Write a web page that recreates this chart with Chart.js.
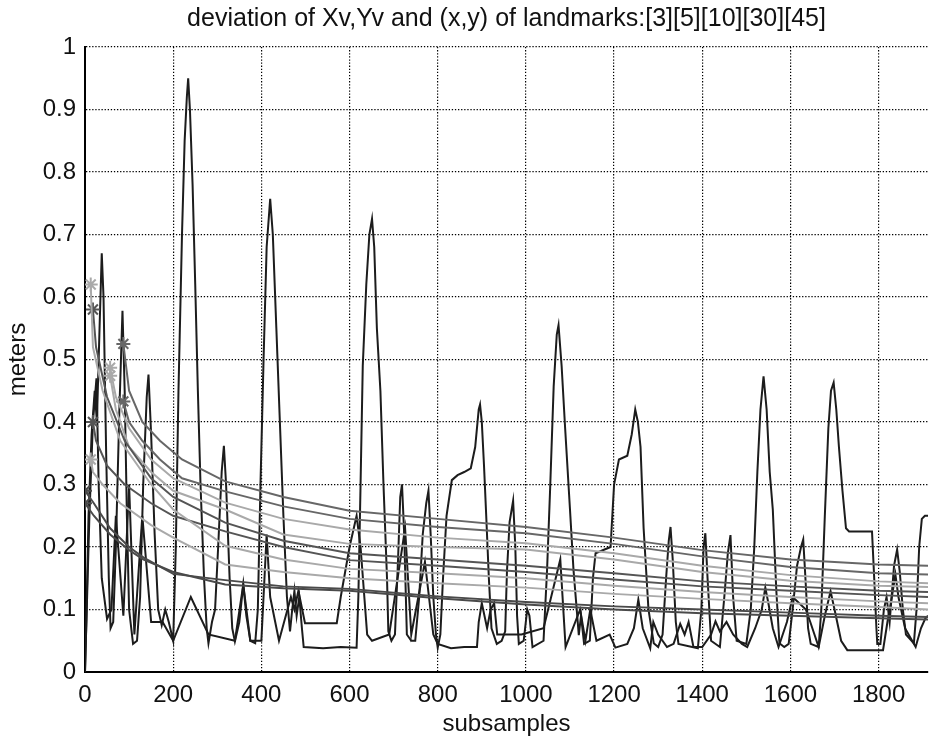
<!DOCTYPE html>
<html>
<head>
<meta charset="utf-8">
<script src="https://cdn.jsdelivr.net/npm/chart.js@4/dist/chart.umd.min.js"></script>
<style>
  html, body { margin: 0; padding: 0; background: #fff; }
  #wrap { width: 929px; height: 742px; }
</style>
</head>
<body>
<div id="wrap"><canvas id="c" width="929" height="742"></canvas></div>
<script>
/* deviation of vehicle (Xv, Yv) and landmark (x, y) estimates */

const xTicks = [0, 200, 400, 600, 800, 1000, 1200, 1400, 1600, 1800];
const yTicks = [0, 0.1, 0.2, 0.3, 0.4, 0.5, 0.6, 0.7, 0.8, 0.9, 1];
const TITLE = 'deviation of Xv,Yv and (x,y) of landmarks:[3][5][10][30][45]';

// vehicle deviation, first trace (the tall peaks)
const xvSamples = [0,3,8,15,22,27,33,38,42,48,54,58,64,70,78,85,90,95,100,109,118,125,132,140,144,150,158,166,174,182,190,200,206,212,220,226,231,234,238,244,250,256,262,270,276,280,288,295,302,310,315,320,328,334,340,350,359,366,375,386,392,398,405,412,420,426,434,442,450,458,465,470,475,480,486,492,496,540,580,616,620,625,630,638,645,651,656,662,670,677,685,688,695,703,710,715,719,724,730,740,749,758,766,774,779,784,790,796,800,806,812,820,832,845,860,875,885,893,896,900,905,910,916,922,934,945,953,957,963,971,976,980,984,995,1003,1008,1015,1040,1048,1055,1063,1070,1074,1081,1089,1100,1108,1120,1125,1132,1145,1152,1158,1192,1200,1211,1230,1240,1248,1254,1260,1267,1278,1290,1300,1310,1318,1324,1328,1333,1340,1346,1390,1398,1403,1407,1412,1420,1440,1450,1458,1464,1470,1478,1500,1510,1518,1525,1532,1539,1546,1553,1560,1568,1575,1586,1596,1605,1615,1624,1629,1634,1640,1646,1664,1670,1678,1686,1692,1698,1704,1710,1718,1726,1733,1785,1790,1795,1797,1804,1812,1818,1825,1835,1842,1848,1855,1862,1880,1886,1892,1898,1905,1912];
const xvDev = [0,0.08,0.25,0.38,0.45,0.40,0.55,0.67,0.6,0.35,0.15,0.07,0.08,0.2,0.42,0.578,0.45,0.25,0.1,0.045,0.05,0.12,0.3,0.44,0.476,0.38,0.22,0.1,0.075,0.1,0.08,0.05,0.2,0.45,0.7,0.85,0.92,0.95,0.9,0.78,0.62,0.45,0.3,0.15,0.07,0.046,0.08,0.1,0.2,0.32,0.362,0.3,0.15,0.07,0.049,0.08,0.14,0.09,0.05,0.046,0.1,0.3,0.5,0.68,0.757,0.7,0.55,0.4,0.25,0.12,0.065,0.1,0.13,0.09,0.12,0.07,0.04,0.038,0.04,0.039,0.12,0.3,0.49,0.62,0.7,0.725,0.68,0.55,0.45,0.3,0.15,0.065,0.05,0.06,0.18,0.28,0.30,0.22,0.06,0.05,0.05,0.12,0.22,0.27,0.29,0.22,0.12,0.06,0.039,0.06,0.15,0.25,0.307,0.315,0.32,0.326,0.36,0.42,0.428,0.4,0.33,0.25,0.15,0.07,0.045,0.05,0.065,0.16,0.24,0.274,0.2,0.09,0.045,0.05,0.1,0.09,0.04,0.05,0.163,0.294,0.457,0.54,0.555,0.49,0.39,0.26,0.163,0.059,0.09,0.045,0.05,0.15,0.19,0.2,0.3,0.34,0.346,0.38,0.42,0.4,0.36,0.23,0.1,0.046,0.04,0.06,0.15,0.21,0.232,0.18,0.08,0.045,0.038,0.1,0.2,0.222,0.15,0.05,0.04,0.12,0.19,0.219,0.12,0.05,0.045,0.1,0.2,0.32,0.42,0.473,0.42,0.32,0.26,0.13,0.046,0.04,0.045,0.1,0.17,0.2,0.212,0.15,0.07,0.045,0.04,0.1,0.25,0.39,0.45,0.463,0.42,0.36,0.29,0.23,0.225,0.225,0.15,0.07,0.045,0.045,0.1,0.12,0.08,0.17,0.196,0.16,0.1,0.06,0.046,0.1,0.2,0.245,0.25,0.25];

// vehicle deviation, second trace
const yvSamples = [0,4,10,18,26,31,38,50,60,70,87,100,112,130,150,176,200,240,280,340,359,375,400,412,420,440,467,475,484,499,571,580,600,616,625,640,651,690,726,740,771,790,800,830,860,889,893,900,912,920,928,935,990,1040,1078,1090,1123,1135,1146,1160,1190,1203,1230,1245,1255,1265,1282,1289,1300,1320,1335,1350,1360,1369,1380,1400,1420,1430,1440,1455,1470,1490,1502,1520,1535,1543,1550,1560,1573,1592,1605,1635,1645,1664,1678,1691,1700,1715,1729,1810,1820,1830,1838,1845,1860,1884,1896,1906,1912];
const yvDev = [0,0.1,0.25,0.4,0.47,0.3,0.15,0.085,0.1,0.25,0.09,0.3,0.06,0.25,0.08,0.08,0.05,0.12,0.06,0.05,0.14,0.05,0.05,0.22,0.12,0.05,0.12,0.1,0.13,0.078,0.078,0.12,0.2,0.25,0.2,0.06,0.05,0.06,0.23,0.06,0.176,0.06,0.045,0.038,0.04,0.04,0.08,0.11,0.07,0.1,0.11,0.06,0.06,0.07,0.18,0.04,0.1,0.05,0.1,0.05,0.06,0.039,0.045,0.07,0.116,0.07,0.038,0.08,0.06,0.04,0.045,0.077,0.06,0.08,0.04,0.04,0.06,0.081,0.065,0.08,0.06,0.045,0.04,0.07,0.1,0.135,0.11,0.07,0.04,0.08,0.12,0.1,0.08,0.04,0.09,0.129,0.1,0.05,0.035,0.035,0.08,0.12,0.156,0.12,0.07,0.04,0.07,0.086,0.09];

// landmark deviations: shared samples per landmark, then x and y deviation
const lm3Samples = [0, 20, 57, 100, 133, 200, 318, 450, 600, 800, 1000, 1200, 1400, 1600, 1800, 1912];
const lm3x = [0.29, 0.27, 0.23, 0.2, 0.183, 0.157, 0.147, 0.137, 0.133, 0.121, 0.112, 0.105, 0.1, 0.095, 0.09, 0.088];
const lm3y = [0.27, 0.25, 0.22, 0.195, 0.18, 0.16, 0.14, 0.134, 0.13, 0.118, 0.108, 0.1, 0.094, 0.09, 0.086, 0.084];

const lm5Samples = [13, 18, 40, 80, 150, 200, 318, 450, 600, 800, 1000, 1200, 1400, 1600, 1800, 1912];
const lm5x = [0.62, 0.52, 0.45, 0.37, 0.3, 0.26, 0.202, 0.18, 0.165, 0.158, 0.15, 0.138, 0.128, 0.12, 0.113, 0.11];
const lm5y = [0.34, 0.32, 0.3, 0.27, 0.235, 0.215, 0.172, 0.16, 0.15, 0.142, 0.135, 0.125, 0.117, 0.11, 0.104, 0.1];

const lm10Samples = [18, 25, 50, 90, 150, 200, 318, 450, 600, 800, 1000, 1200, 1400, 1600, 1800, 1912];
const lm10x = [0.58, 0.52, 0.44, 0.37, 0.31, 0.28, 0.239, 0.21, 0.19, 0.18, 0.17, 0.158, 0.145, 0.137, 0.13, 0.128];
const lm10y = [0.40, 0.37, 0.33, 0.3, 0.27, 0.25, 0.225, 0.2, 0.179, 0.17, 0.16, 0.148, 0.137, 0.13, 0.123, 0.12];

const lm30Samples = [57, 70, 100, 150, 200, 318, 450, 600, 800, 1000, 1200, 1400, 1600, 1800, 1912];
const lm30x = [0.487, 0.44, 0.39, 0.34, 0.31, 0.271, 0.245, 0.228, 0.215, 0.206, 0.19, 0.17, 0.155, 0.145, 0.142];
const lm30y = [0.474, 0.42, 0.36, 0.32, 0.29, 0.26, 0.22, 0.205, 0.2, 0.196, 0.18, 0.16, 0.146, 0.138, 0.136];

const lm45Samples = [87, 100, 130, 170, 220, 318, 450, 600, 800, 1000, 1200, 1400, 1600, 1800, 1912];
const lm45x = [0.525, 0.45, 0.4, 0.37, 0.34, 0.305, 0.28, 0.258, 0.245, 0.232, 0.215, 0.195, 0.18, 0.172, 0.17];
const lm45y = [0.433, 0.4, 0.37, 0.34, 0.31, 0.289, 0.265, 0.245, 0.232, 0.222, 0.205, 0.185, 0.168, 0.158, 0.156];

function pts(xs, ys) {
    return xs.map((x, i) => ({ x, y: ys[i] }));
}

const DARK = '#555555';
const DARK2 = '#676767';
const LIGHT = '#a9a9a9';
const INK = '#1c1c1c';

function landmark(xs, ys, color) {
    return {
        data: pts(xs, ys),
        borderColor: color,
        backgroundColor: color,
        borderWidth: 2,
        pointStyle: 'star',
        pointBorderColor: color,
        pointBorderWidth: 2,
        pointRadius: (ctx) => (ctx.dataIndex === 0 ? 7 : 0),
        pointHoverRadius: 0,
        tension: 0,
        order: 0,
    };
}

function vehicle(xs, ys) {
    return {
        data: pts(xs, ys),
        borderColor: INK,
        borderWidth: 2,
        pointRadius: 0,
        tension: 0,
        order: 1,
    };
}

const FAMILY = "'Liberation Sans', Arial, sans-serif";
const FONT = { family: FAMILY, size: 24 };

// title centred over the plot area, as in the original figure
const plotTitle = {
    id: 'plotTitle',
    afterDraw(chart) {
        const { ctx, chartArea } = chart;
        ctx.save();
        ctx.font = `25px ${FAMILY}`;
        ctx.fillStyle = '#111';
        ctx.textAlign = 'center';
        ctx.textBaseline = 'middle';
        ctx.fillText(TITLE, (chartArea.left + chartArea.right) / 2, 19);
        ctx.restore();
    },
};

new Chart(document.getElementById('c'), {
    type: 'line',
    data: {
        datasets: [
            landmark(lm3Samples, lm3x, '#4a4a4a'),
            landmark(lm3Samples, lm3y, '#4a4a4a'),
            landmark(lm5Samples, lm5x, LIGHT),
            landmark(lm5Samples, lm5y, LIGHT),
            landmark(lm10Samples, lm10x, DARK),
            landmark(lm10Samples, lm10y, DARK),
            landmark(lm30Samples, lm30x, LIGHT),
            landmark(lm30Samples, lm30y, LIGHT),
            landmark(lm45Samples, lm45x, DARK2),
            landmark(lm45Samples, lm45y, DARK2),
            vehicle(xvSamples, xvDev),
            vehicle(yvSamples, yvDev),
        ],
    },
    plugins: [plotTitle],
    options: {
        responsive: false,
        animation: false,
        devicePixelRatio: 1,
        layout: { autoPadding: false, padding: { left: 0, right: 1, top: 47, bottom: 0 } },
        plugins: {
            legend: { display: false },
            tooltip: { enabled: false },
            title: { display: false },
        },
        scales: {
            x: {
                type: 'linear',
                min: 0,
                max: 1912,
                afterBuildTicks: (s) => { s.ticks = xTicks.map((v) => ({ value: v })); },
                afterFit: (s) => { s.height = 70; },
                ticks: { color: '#111', font: FONT, padding: 9, maxRotation: 0, autoSkip: false, callback: (v) => String(v) },
                grid: { color: '#000', lineWidth: 1.2, drawTicks: false },
                border: { display: true, color: '#000', width: 2, dash: [1.3, 1.8] },
                title: { display: true, text: 'subsamples', color: '#111', font: FONT, padding: { top: 0, bottom: 3 } },
            },
            y: {
                type: 'linear',
                min: 0,
                max: 1,
                afterBuildTicks: (s) => { s.ticks = yTicks.map((v) => ({ value: v })); },
                afterFit: (s) => { s.width = 85; },
                ticks: { color: '#111', font: FONT, padding: 9, callback: (v) => String(v) },
                grid: { color: '#000', lineWidth: 1.2, drawTicks: false },
                border: { display: true, color: '#000', width: 2, dash: [1.3, 1.8] },
                title: { display: true, text: 'meters', color: '#111', font: FONT, padding: { top: 4, bottom: 0 } },
            },
        },
    },
});
</script>
</body>
</html>
